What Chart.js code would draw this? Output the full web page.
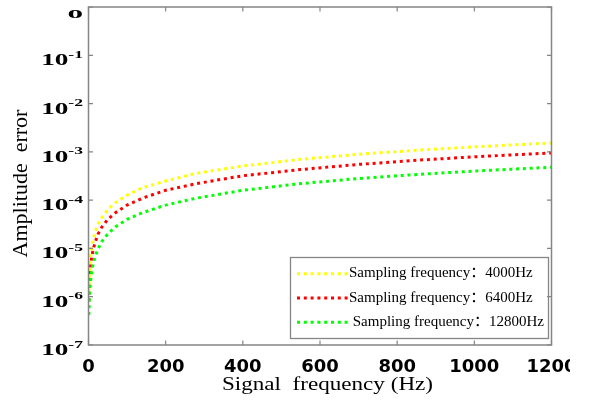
<!DOCTYPE html>
<html>
<head>
<meta charset="utf-8">
<script src="https://cdn.jsdelivr.net/npm/chart.js@4.4.1/dist/chart.umd.min.js"></script>
<style>
  html, body { margin: 0; padding: 0; background: #fff; width: 590px; height: 400px; overflow: hidden; }
  canvas { display: block; }
</style>
</head>
<body>
<canvas id="c" width="570" height="400"></canvas>
<script>
// Signal frequency (Hz) and amplitude error for each sampling frequency
const frequencyHz = [1, 2, 3, 5, 8, 12, 18, 25, 35, 50, 70, 100, 140, 200, 280, 400, 550, 700, 850, 1000, 1200];
const errorFs4000 = [1.3e-6, 2.5e-6, 3.8e-6, 6.4e-6, 1.0e-5, 1.5e-5, 2.3e-5, 3.2e-5, 4.4e-5, 6.4e-5, 8.9e-5, 1.27e-4, 1.8e-4, 2.5e-4, 3.6e-4, 5.1e-4, 7.0e-4, 8.9e-4, 1.08e-3, 1.27e-3, 1.53e-3];
const errorFs6400 = [8.0e-7, 1.6e-6, 2.4e-6, 4.0e-6, 6.3e-6, 9.5e-6, 1.4e-5, 2.0e-5, 2.8e-5, 4.0e-5, 5.5e-5, 7.9e-5, 1.1e-4, 1.6e-4, 2.2e-4, 3.2e-4, 4.3e-4, 5.5e-4, 6.7e-4, 7.9e-4, 9.5e-4];
const errorFs12800 = [4.2e-7, 8.0e-7, 1.2e-6, 2.0e-6, 3.2e-6, 4.8e-6, 7.1e-6, 9.9e-6, 1.4e-5, 2.0e-5, 2.8e-5, 4.0e-5, 5.5e-5, 7.9e-5, 1.1e-4, 1.6e-4, 2.2e-4, 2.8e-4, 3.4e-4, 4.0e-4, 4.8e-4];

const seriesLabels = ['Sampling frequency：4000Hz', 'Sampling frequency：6400Hz', ' Sampling frequency：12800Hz'];
const seriesColors = ['#ffff00', '#ff0000', '#00ff00'];

const xTickValues = [0, 200, 400, 600, 800, 1000, 1200];
const yTickValues = [1e-7, 1e-6, 1e-5, 1e-4, 1e-3, 1e-2, 1e-1, 1];
const yTickLabels = ['10^-7', '10^-6', '10^-5', '10^-4', '10^-3', '10^-2', '10^-1', '0'];

const xTitle = 'Signal  frequency (Hz)';
const yTitle = 'Amplitude  error';

const AXIS_GRAY = '#858585';
const SERIF = '"Liberation Serif", "Times New Roman", serif';

function toPoints(values) {
  return frequencyHz.map((f, i) => ({ x: f, y: values[i] }));
}

// text drawn right-aligned with a horizontal stretch; returns drawn width
function stretchText(ctx, text, xRight, yBase, font, sx) {
  ctx.save();
  ctx.font = font;
  const w = ctx.measureText(text).width * sx;
  ctx.translate(xRight, yBase);
  ctx.scale(sx, 1);
  ctx.textAlign = 'right';
  ctx.textBaseline = 'alphabetic';
  ctx.fillStyle = '#000';
  ctx.fillText(text, 0, 0);
  ctx.restore();
  return w;
}

function drawLegend(chart) {
  const ctx = chart.ctx;
  const box = { x: 290.5, y: 257.5, w: 258, h: 81 };
  ctx.save();
  ctx.fillStyle = '#fff';
  ctx.fillRect(box.x, box.y, box.w, box.h);
  ctx.strokeStyle = AXIS_GRAY;
  ctx.lineWidth = 1.3;
  ctx.strokeRect(box.x, box.y, box.w, box.h);
  chart.data.datasets.forEach((ds, i) => {
    const y = 273.7 + i * 24.3;
    ctx.setLineDash(ds.borderDash);
    ctx.lineCap = 'butt';
    ctx.lineWidth = ds.borderWidth;
    ctx.strokeStyle = ds.borderColor;
    ctx.beginPath();
    ctx.moveTo(297, y);
    ctx.lineTo(349, y);
    ctx.stroke();
    ctx.setLineDash([]);
    ctx.fillStyle = '#000';
    ctx.font = '15px ' + SERIF + ', "Noto Sans CJK SC"';
    ctx.textAlign = 'left';
    ctx.textBaseline = 'alphabetic';
    ctx.fillText(ds.label, 349, y + 3.5);
  });
  ctx.restore();
}

const framePlugin = {
  id: 'frame',
  beforeDraw(chart) {
    const ctx = chart.ctx;
    ctx.save();
    ctx.fillStyle = '#fff';
    ctx.fillRect(0, 0, chart.width, chart.height);
    ctx.restore();
  },
  afterDatasetsDraw(chart) {
    drawLegend(chart);
  },
  afterDraw(chart) {
    const ctx = chart.ctx;
    const a = chart.chartArea;
    const xs = chart.scales.x;
    const ys = chart.scales.y;
    ctx.save();
    // axes box
    ctx.strokeStyle = AXIS_GRAY;
    ctx.lineWidth = 1.5;
    ctx.strokeRect(a.left, a.top, a.right - a.left, a.bottom - a.top);
    // inward tick marks on all four sides
    ctx.lineWidth = 1.2;
    ctx.beginPath();
    xs.ticks.forEach(t => {
      const px = xs.getPixelForValue(t.value);
      ctx.moveTo(px, a.bottom); ctx.lineTo(px, a.bottom - 4.5);
      ctx.moveTo(px, a.top); ctx.lineTo(px, a.top + 4.5);
    });
    ys.ticks.forEach(t => {
      const py = ys.getPixelForValue(t.value);
      ctx.moveTo(a.left, py); ctx.lineTo(a.left + 4.5, py);
      ctx.moveTo(a.right, py); ctx.lineTo(a.right - 4.5, py);
    });
    ctx.stroke();
    ctx.restore();

    // y tick labels with superscript exponents
    ys.ticks.forEach(t => {
      const idx = yTickValues.indexOf(t.value);
      if (idx < 0) return;
      const py = ys.getPixelForValue(t.value);
      const parts = yTickLabels[idx].split('^');
      const xr = 83;
      if (parts.length === 2) {
        const wExp = stretchText(ctx, parts[1], xr, py + 2.6, 'bold 11px ' + SERIF, 1.6);
        stretchText(ctx, parts[0], xr - wExp, py + 10, 'bold 17px ' + SERIF, 1.6);
      } else {
        stretchText(ctx, parts[0], xr, py + 11, 'bold 13px ' + SERIF, 2.4);
      }
    });

    // x axis title
    ctx.save();
    ctx.font = '18px ' + SERIF;
    const tw = ctx.measureText(xTitle).width;
    const sx = 211 / tw;
    ctx.translate(327.5, 389.5);
    ctx.scale(sx, 1);
    ctx.textAlign = 'center';
    ctx.textBaseline = 'alphabetic';
    ctx.fillStyle = '#000';
    ctx.fillText(xTitle, 0, 0);
    ctx.restore();

    // y axis title
    ctx.save();
    ctx.font = '22px ' + SERIF;
    ctx.translate(22.5, 183.5);
    ctx.rotate(-Math.PI / 2);
    ctx.textAlign = 'center';
    ctx.textBaseline = 'alphabetic';
    ctx.fillStyle = '#000';
    ctx.fillText(yTitle, 0, 4.8);
    ctx.restore();
  }
};

const seriesValues = [errorFs4000, errorFs6400, errorFs12800];

new Chart(document.getElementById('c'), {
  type: 'line',
  data: {
    datasets: seriesValues.map((vals, i) => ({
      label: seriesLabels[i],
      data: toPoints(vals),
      borderColor: seriesColors[i],
      backgroundColor: seriesColors[i],
      borderWidth: 3,
      borderDash: [3, 3.8],
      borderCapStyle: 'butt',
      pointRadius: 0,
      fill: false,
      tension: 0,
      order: 3 - i
    }))
  },
  options: {
    responsive: false,
    animation: false,
    devicePixelRatio: 1,
    events: [],
    layout: { padding: { left: 0, right: 18.5, top: 7, bottom: 0 } },
    plugins: { legend: { display: false }, tooltip: { enabled: false } },
    scales: {
      x: {
        type: 'linear',
        min: 0,
        max: 1200,
        grid: { display: false, drawTicks: false },
        border: { display: false },
        afterBuildTicks(scale) { scale.ticks = xTickValues.map(v => ({ value: v })); },
        afterFit(scale) { scale.height = 55; scale.paddingLeft = 0; scale.paddingRight = 0; },
        ticks: {
          autoSkip: false,
          maxRotation: 0,
          padding: 12,
          color: '#000',
          font: { family: 'DejaVu Sans', weight: 'bold', size: 18 },
          callback: v => String(v)
        }
      },
      y: {
        type: 'logarithmic',
        min: 1e-7,
        max: 1,
        grid: { display: false, drawTicks: false },
        border: { display: false },
        afterBuildTicks(scale) { scale.ticks = yTickValues.map(v => ({ value: v })); },
        afterFit(scale) { scale.width = 88.5; scale.paddingTop = 0; scale.paddingBottom = 0; },
        ticks: { display: false }
      }
    }
  },
  plugins: [framePlugin]
});
</script>
</body>
</html>
